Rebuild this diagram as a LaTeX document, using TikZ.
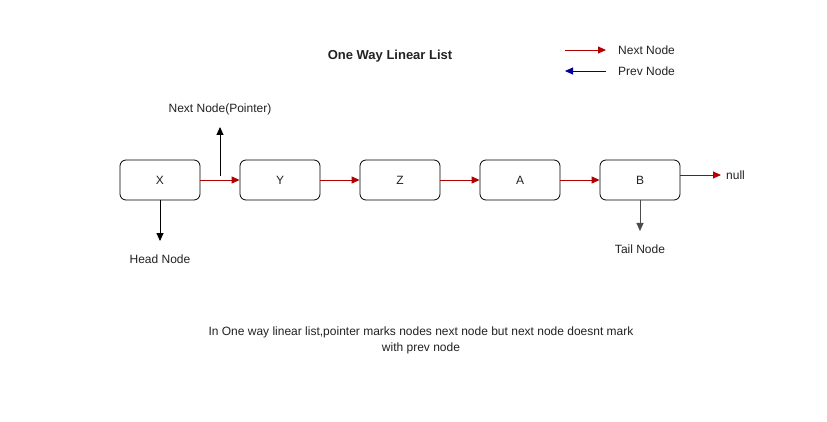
\documentclass[tikz,border=0pt]{standalone}
\usepackage{fontspec}
\setmainfont{Liberation Sans}
\usetikzlibrary{arrows.meta}
\definecolor{nextred}{HTML}{B20000}
\definecolor{prevblue}{HTML}{000099}
\definecolor{txt}{HTML}{222222}
\begin{document}
\begin{tikzpicture}[x=1pt,y=-1pt,
  every node/.style={font=\fontsize{12}{14}\selectfont, text=txt},
  listbox/.style={draw, rounded corners=6pt, minimum width=80pt, minimum height=40pt, inner sep=0pt, line width=0.8pt},
  nextarr/.style={draw=nextred, line width=0.9pt, -{Triangle[length=8pt,width=7pt]}},
  prevarr/.style={draw=prevblue, line width=0.9pt, -{Triangle[length=8pt,width=7pt]}},
  blackarr/.style={draw=black, line width=0.9pt, -{Triangle[length=8pt,width=7pt]}},
  lbl/.style={inner sep=0pt}]
\useasboundingbox (0,0) rectangle (827,422);
\fill[white] (0,0) rectangle (827,422);
\node[lbl, font=\bfseries\fontsize{13}{15}\selectfont] (title) at (390,56) {One Way Linear List};
% legend
\coordinate (l1a) at (565,50); \coordinate (l1b) at (606,50);
\coordinate (l2a) at (606,71); \coordinate (l2b) at (565,71);
\draw[nextarr] (l1a) -- (l1b);
\draw[prevarr] (l2a) -- (l2b);
\node[lbl, anchor=west] (lgn) at (618,50) {Next Node};
\node[lbl, anchor=west] (lgp) at (618,71) {Prev Node};
% nodes
\node[listbox] (X) at (160,180) {X};
\node[listbox] (Y) at (280,180) {Y};
\node[listbox] (Z) at (400,180) {Z};
\node[listbox] (A) at (520,180) {A};
\node[listbox] (B) at (640,180) {B};
\node[lbl, anchor=west] (null) at (726,175) {null};
\coordinate (nullend) at (721,175);
\draw[nextarr] (X.east) -- (Y.west);
\draw[nextarr] (Y.east) -- (Z.west);
\draw[nextarr] (Z.east) -- (A.west);
\draw[nextarr] (A.east) -- (B.west);
\draw[nextarr] (B.east |- nullend) -- (nullend);
% pointer
\coordinate (pbase) at (220,176);
\coordinate (ptop) at (220,127);
\draw[blackarr] (pbase) -- (ptop);
\node[lbl] (ptr) at (220,109) {Next Node(Pointer)};
% head / tail
\coordinate (hend) at (160,241);
\draw[blackarr] (X.south) -- (hend);
\node[lbl] (head) at (160,259) {Head Node};
\coordinate (tend) at (640,231);
\draw[blackarr, draw=black!70] (B.south) -- (tend);
\node[lbl] (tail) at (640,249) {Tail Node};
% note
\node[lbl, align=center, font=\fontsize{12}{16}\selectfont] (note) at (421,340) {In One way linear list,pointer marks nodes next node but next node doesnt mark\\with prev node};
\end{tikzpicture}
\end{document}
